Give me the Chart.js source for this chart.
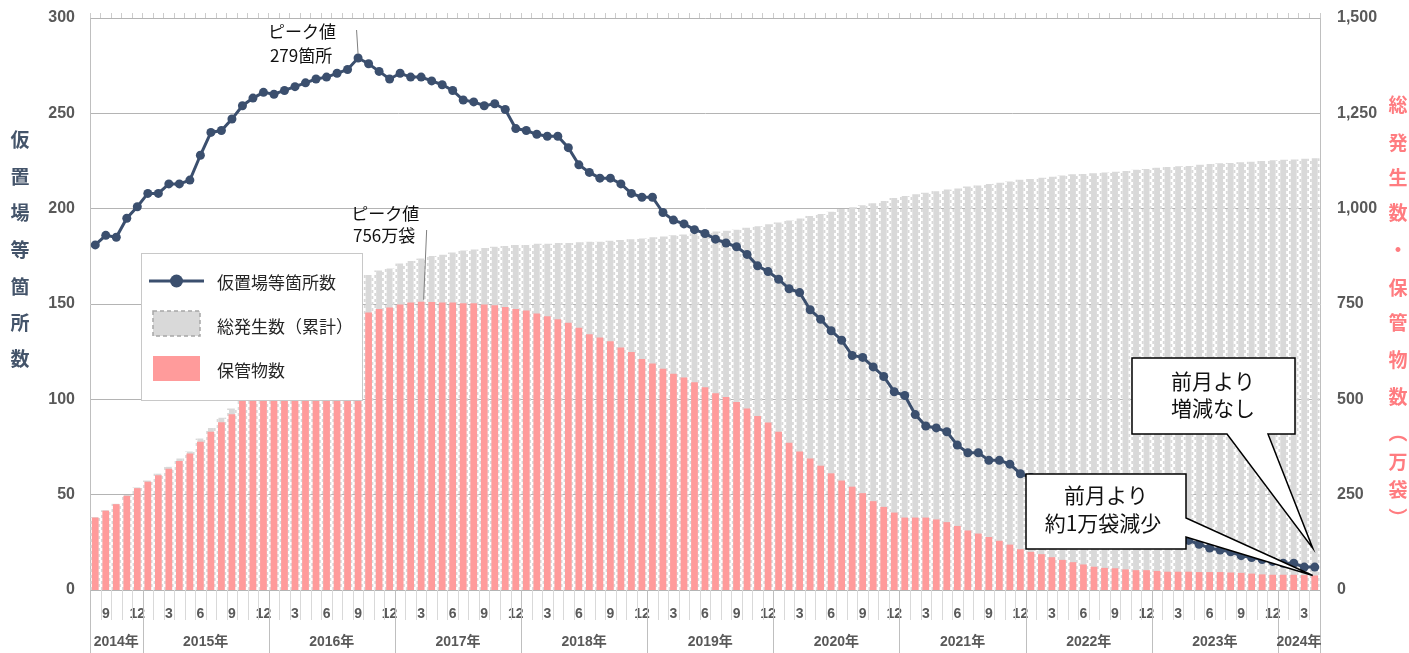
<!DOCTYPE html>
<html>
<head>
<meta charset="utf-8">
<script src="https://cdn.jsdelivr.net/npm/chart.js@4.4.1/dist/chart.umd.min.js"></script>
<style>
html, body { margin: 0; padding: 0; background: #fff; }
#wrap { width: 1409px; height: 653px; }
</style>
</head>
<body>
<div id="wrap"><canvas id="chart" width="1409" height="653"></canvas></div>
<script>
// monthly, Aug 2014 .. Apr 2024
var startYear = 2014, startMonth = 8, monthCount = 117
var categories = []
for (var k = 0; k < monthCount; k++) {
	var mm = (startMonth - 1 + k) % 12 + 1
	var yy = startYear + Math.floor((startMonth - 1 + k) / 12)
	categories.push(yy + '/' + mm)
}

var yearLabels = ['2014年', '2015年', '2016年', '2017年', '2018年', '2019年', '2020年', '2021年', '2022年', '2023年', '2024年']

// 仮置場等箇所数 (left axis)
var sites = [
	181, 186, 185, 195, 201, 208, 208, 213, 213, 215, 228, 240, 241, 247, 254, 258, 261, 260, 262, 264, 266, 268, 269, 271,
	273, 279, 276, 272, 268, 271, 269, 269, 267, 265, 262, 257, 256, 254, 255, 252, 242, 241, 239, 238, 238, 232, 223, 219,
	216, 216, 213, 208, 206, 206, 198, 194, 192, 189, 187, 184, 182, 180, 176, 170, 167, 163, 158, 156, 147, 142, 136, 131,
	123, 122, 117, 112, 104, 102, 92, 86, 85, 83, 76, 72, 72, 68, 68, 66, 61,
	59, 57, 55, 52, 50, 47, 44, 42, 40, 38, 35, 33, 31, 29, 27, 26, 24, 22, 21, 20, 18, 17, 16, 15, 14, 14, 12, 12
]

// 保管物数 (万袋, right axis)
var stored = [
	190, 208, 225, 247, 267, 284, 301, 318, 338, 358, 389, 415, 440, 461,
	500, 528, 555, 582, 608, 632, 655, 675, 692, 705, 715, 722,
	728, 737, 741, 749, 754, 756, 755, 754, 754, 752, 752, 749, 747, 742, 737, 733, 725, 718, 710, 701, 688, 671,
	662, 652, 636, 624, 606, 594, 580, 567, 557, 545, 532, 516, 506, 493, 476, 456, 439, 415, 386, 363, 345, 326, 306, 287,
	271, 254, 233, 218, 203, 190, 190, 190, 185, 178, 168, 156, 148, 139, 129, 119, 107,
	100, 94, 86, 79, 73, 67, 61, 58, 57, 54, 52, 52, 50, 48,
	48, 48, 47, 47, 47, 46, 45, 43, 41, 40, 40, 40, 39, 38
]

// 総発生数（累計） (万袋, right axis)
var total = [
	191, 209, 226, 249, 269, 287, 305, 323, 345,
	363, 397, 425, 452, 476,
	510, 545, 580, 615, 648, 680, 710, 738, 762, 783, 800, 815,
	826, 838, 843, 856, 863, 869, 876, 879, 885, 890, 893, 897, 900, 902, 905, 905, 908, 908, 910, 910, 912, 913,
	913, 916, 918, 920, 922, 925, 927, 930, 932, 935, 938, 940, 942, 945, 950, 954, 959, 964, 969, 974, 981, 986, 992, 999,
	1004, 1009, 1014, 1020, 1028, 1033, 1038, 1042, 1046, 1050, 1053, 1058, 1061, 1065, 1068, 1071, 1076, 1078, 1081, 1084, 1087, 1090, 1091, 1093,
	1095, 1097, 1099, 1102, 1104, 1107, 1109, 1111, 1112, 1115, 1117, 1119, 1120, 1122, 1123, 1125, 1127, 1128, 1129, 1131, 1132
]

var leftTitle = ['仮', '置', '場', '等', '箇', '所', '数']
var rightTitle = ['総', '発', '生', '数', '・', '保', '管', '物', '数', '︵', '万', '袋', '︶']

var lineColor = '#3b4f6e'
var pinkColor = '#ff9b9b'
var grayColor = '#d9d9d9'
var tickColor = '#595959'
var numFont = "'Liberation Sans', 'Noto Sans CJK JP', sans-serif"
var jpFont = "'Noto Sans CJK JP', sans-serif"

function monthOf(i) { return +categories[i].split('/')[1] }

function line(ctx, x1, y1, x2, y2) {
	ctx.beginPath()
	ctx.moveTo(x1, y1)
	ctx.lineTo(x2, y2)
	ctx.stroke()
}

// keep tick padding from pushing the plot area in
function fixWidth(w) {
	return function (s) { s.width = w; s.paddingTop = 0; s.paddingBottom = 0 }
}

var wavyBars = {
	id: 'wavyBars',
	afterDatasetDraw: function (chart, args) {
		if (args.index !== 2) return
		var ctx = chart.ctx
		ctx.save()
		ctx.strokeStyle = grayColor
		ctx.lineWidth = 1.8
		ctx.setLineDash([3, 3])
		args.meta.data.forEach(function (bar) {
			var p = bar.getProps(['x', 'y', 'width', 'base'], true)
			var l = p.x - p.width / 2 - 0.9, r = p.x + p.width / 2 + 0.9
			ctx.lineDashOffset = 0
			line(ctx, l, p.base, l, p.y)
			ctx.lineDashOffset = 3
			line(ctx, r, p.base, r, p.y)
		})
		ctx.restore()
	}
}

var decorations = {
	id: 'decorations',
	afterDraw: function (chart) {
		var ctx = chart.ctx
		var xs = chart.scales.x
		var area = chart.chartArea
		var step = xs.getPixelForValue(1) - xs.getPixelForValue(0)
		var edge = function (i) { return xs.getPixelForValue(0) - step / 2 + i * step }

		ctx.save()
		// month / year separators below the axis
		ctx.lineWidth = 1
		for (var i = 0; i <= monthCount; i++) {
			var bx = Math.round(edge(i)) + 0.5
			if (i === 0 || i === monthCount || monthOf(i) === 1) {
				ctx.strokeStyle = '#bfbfbf'
				line(ctx, bx, area.bottom, bx, 653)
			} else {
				ctx.strokeStyle = '#d9d9d9'
				line(ctx, bx, area.bottom, bx, area.bottom + 30)
			}
		}

		// year labels
		ctx.fillStyle = tickColor
		ctx.font = 'bold 14px ' + numFont
		ctx.textAlign = 'center'
		ctx.textBaseline = 'middle'
		var first = 0
		for (var y = 0; y < yearLabels.length; y++) {
			var last = first
			while (last + 1 < monthCount && monthOf(last + 1) !== 1) last++
			ctx.fillText(yearLabels[y], (edge(first) + edge(last + 1)) / 2, 642)
			first = last + 1
		}

		// axis titles
		ctx.font = 'bold 19px ' + jpFont
		ctx.fillStyle = '#44546a'
		var ly = [140, 177, 213, 250, 287, 323, 359]
		leftTitle.forEach(function (c, n) { ctx.fillText(c, 20, ly[n]) })
		ctx.fillStyle = '#ff7c80'
		var ry = [105, 143, 178, 213, 250, 288, 323, 360, 397, 433, 462, 490, 518]
		rightTitle.forEach(function (c, n) { ctx.fillText(c, 1398, ry[n]) })

		// peak labels
		var lineMeta = chart.getDatasetMeta(0).data
		var pinkMeta = chart.getDatasetMeta(1).data
		var pk = lineMeta[sites.indexOf(Math.max.apply(null, sites))]
		var pb = pinkMeta[stored.indexOf(Math.max.apply(null, stored))]
		ctx.fillStyle = '#111'
		ctx.font = '17px ' + jpFont
		ctx.fillText('ピーク値', pk.x - 56, 32)
		ctx.fillText(Math.max.apply(null, sites) + '箇所', pk.x - 57, 56)
		ctx.fillText('ピーク値', pb.x - 36, 214)
		ctx.fillText(Math.max.apply(null, stored) + '万袋', pb.x - 37, 236)
		ctx.strokeStyle = '#7f7f7f'
		ctx.lineWidth = 1
		line(ctx, pk.x - 1.5, 30, pk.x, pk.y - 4)
		line(ctx, pb.x + 5.5, 230, pb.x + 2.5, pb.y - 2)

		// callouts
		var lastPt = lineMeta[monthCount - 1]
		var lastBar = pinkMeta[monthCount - 1]
		ctx.fillStyle = '#fff'
		ctx.strokeStyle = '#000'
		ctx.lineWidth = 1.5
		ctx.beginPath()
		ctx.moveTo(1132, 358)
		ctx.lineTo(1295, 358)
		ctx.lineTo(1295, 434)
		ctx.lineTo(1268, 434)
		ctx.lineTo(lastPt.x - 2, lastPt.y - 19)
		ctx.lineTo(1227, 434)
		ctx.lineTo(1132, 434)
		ctx.closePath()
		ctx.fill()
		ctx.stroke()

		ctx.beginPath()
		ctx.moveTo(1026, 474)
		ctx.lineTo(1186, 474)
		ctx.lineTo(1186, 518)
		ctx.lineTo(lastBar.x - 2, lastBar.y)
		ctx.lineTo(1186, 537)
		ctx.lineTo(1186, 549)
		ctx.lineTo(1026, 549)
		ctx.closePath()
		ctx.fill()
		ctx.stroke()

		ctx.fillStyle = '#111'
		ctx.font = '21px ' + jpFont
		ctx.fillText('前月より', 1213, 381)
		ctx.fillText('増減なし', 1213, 408)
		ctx.fillText('前月より', 1106, 495)
		ctx.fillText('約1万袋減少', 1103, 523)

		// legend
		ctx.fillStyle = '#fff'
		ctx.fillRect(141, 253, 222, 148)
		ctx.strokeStyle = '#c8c8c8'
		ctx.lineWidth = 1
		ctx.strokeRect(141.5, 253.5, 221, 147)
		ctx.strokeStyle = lineColor
		ctx.lineWidth = 3
		line(ctx, 149, 281, 204, 281)
		ctx.fillStyle = lineColor
		ctx.beginPath()
		ctx.arc(176.5, 281, 6.5, 0, Math.PI * 2)
		ctx.fill()
		ctx.fillStyle = grayColor
		ctx.fillRect(153, 311, 47, 25)
		ctx.strokeStyle = '#a6a6a6'
		ctx.lineWidth = 1.5
		ctx.setLineDash([4, 3])
		ctx.strokeRect(153, 311, 47, 25)
		ctx.setLineDash([])
		ctx.fillStyle = pinkColor
		ctx.fillRect(153, 356, 47, 25)
		ctx.fillStyle = '#262626'
		ctx.font = '17px ' + jpFont
		ctx.textAlign = 'left'
		ctx.fillText('仮置場等箇所数', 217, 283)
		ctx.fillText('総発生数（累計）', 217, 327)
		ctx.fillText('保管物数', 217, 371)
		ctx.restore()
	}
}

new Chart(document.getElementById('chart'), {
	data: {
		labels: categories,
		datasets: [
			{
				type: 'line', label: '仮置場等箇所数', data: sites, yAxisID: 'y', xAxisID: 'x',
				borderColor: lineColor, backgroundColor: lineColor, borderWidth: 3, tension: 0,
				pointRadius: 4.5, pointBorderWidth: 0, pointBackgroundColor: lineColor, order: 0
			},
			{
				type: 'bar', label: '保管物数', data: stored, yAxisID: 'y1', xAxisID: 'x',
				backgroundColor: pinkColor, barPercentage: 0.64, categoryPercentage: 1, grouped: false, order: 1
			},
			{
				type: 'bar', label: '総発生数（累計）', data: total, yAxisID: 'y1', xAxisID: 'x',
				backgroundColor: grayColor, barPercentage: 0.56, categoryPercentage: 1, grouped: false, order: 2
			}
		]
	},
	options: {
		responsive: false,
		animation: false,
		devicePixelRatio: 1,
		layout: { padding: 0, autoPadding: false },
		plugins: { legend: { display: false }, tooltip: { enabled: false } },
		scales: {
			x: {
				type: 'category', position: 'bottom', offset: true,
				grid: { display: false }, border: { display: false },
				ticks: {
					autoSkip: false, maxRotation: 0, minRotation: 0, padding: 8, color: tickColor,
					font: { family: numFont, size: 14, weight: 'bold' },
					callback: function (v, i) { var m = monthOf(i); return m % 3 === 0 ? String(m) : '' }
				},
				afterFit: function (s) { s.height = 63 }
			},
			x2: {
				type: 'category', labels: categories, position: 'top', offset: true,
				grid: { offset: true, drawOnChartArea: false, tickLength: 5, color: '#cccccc' },
				border: { display: false },
				ticks: { display: false },
				afterFit: function (s) { s.height = 18 }
			},
			y: {
				position: 'left', min: 0, max: 300,
				grid: { color: '#b4b4b4', drawTicks: false },
				border: { display: true, color: '#bfbfbf' },
				ticks: { stepSize: 50, padding: 15, color: tickColor, font: { family: numFont, size: 16, weight: 'bold' } },
				afterFit: fixWidth(90)
			},
			y1: {
				position: 'right', min: 0, max: 1500,
				grid: { display: false, drawTicks: false },
				border: { display: true, color: '#bfbfbf' },
				ticks: {
					stepSize: 250, padding: 17, color: tickColor, font: { family: numFont, size: 16, weight: 'bold' },
					callback: function (v) { return v.toLocaleString('en-US') }
				},
				afterFit: fixWidth(89)
			}
		}
	},
	plugins: [wavyBars, decorations]
})
</script>
</body>
</html>
